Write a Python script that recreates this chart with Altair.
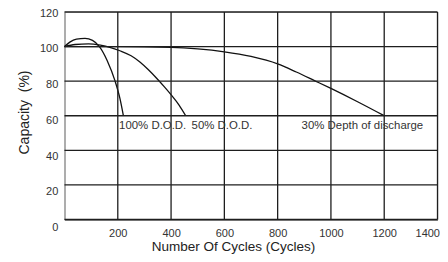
import altair as alt
import pandas as pd

# ---- data ----
cycles_100 = [0, 20, 45, 77, 105, 131, 160, 190, 208, 221]
capacity_100 = [100, 102.6, 104.3, 104.7, 103.6, 100, 92, 80, 70, 60]

cycles_50 = [0, 40, 90, 135, 170, 208, 250, 283, 315, 344, 375, 402, 430, 455]
capacity_50 = [100, 101.2, 101.6, 100.8, 99.6, 97.6, 94.7, 91.1, 86.6, 82.0, 76.7, 71.8, 66.2, 60]

cycles_30 = [0, 200, 400, 500, 600, 700, 800, 870, 940, 1000, 1100, 1200]
capacity_30 = [100, 100, 99.6, 98.7, 97, 94.3, 90, 85.3, 80.2, 75.8, 68.1, 60]

label_text = ["100% D.O.D.", "50% D.O.D.", "30% Depth of discharge"]
label_cycles = [205, 477, 890]
label_capacity = [54.2, 54.2, 54.2]

x_ticks = [200, 400, 600, 800, 1000, 1200, 1400]
y_ticks = [0, 20, 40, 60, 80, 100, 120]

FONT = "Liberation Sans"

rows = []
for name, xs, ys in [("100%", cycles_100, capacity_100),
                     ("50%", cycles_50, capacity_50),
                     ("30%", cycles_30, capacity_30)]:
    for i, (a, b) in enumerate(zip(xs, ys)):
        rows.append({"series": name, "order": i, "cycles": a, "capacity": b})
df = pd.DataFrame(rows)
lab_df = pd.DataFrame({"label": label_text, "cycles": label_cycles, "capacity": label_capacity})
xgrid_df = pd.DataFrame({"cycles": x_ticks})
ygrid_df = pd.DataFrame({"capacity": y_ticks})
ylab_df = pd.DataFrame({"v": y_ticks})

xscale = alt.Scale(domain=[0, 1400], nice=False, zero=False)
yscale = alt.Scale(domain=[0, 120], nice=False)
GRID = "#1e1e1e"

lines = alt.Chart(df).mark_line(color="#111111", strokeWidth=1.3, interpolate="monotone").encode(
    x=alt.X("cycles:Q", scale=xscale,
            axis=alt.Axis(values=x_ticks, format="d", title="Number Of Cycles (Cycles)", grid=False,
                          ticks=False, labelPadding=8, labelFlush=True, labelFlushOffset=2,
                          labelFontSize=11, labelFont=FONT, labelColor="#333333",
                          domainColor="#333333", domainWidth=1.2,
                          titleFont=FONT, titleFontSize=13.5, titleFontWeight="normal",
                          titleColor="#222222", titleX=168.5, titleY=27,
                          titleBaseline="middle", titleAlign="center")),
    y=alt.Y("capacity:Q", scale=yscale,
            axis=alt.Axis(values=y_ticks, title="Capacity \u00a0(%)", grid=False, labels=False,
                          ticks=False, domainColor="#8a8a8a", domainWidth=1.3,
                          titleFont=FONT, titleFontSize=14, titleFontWeight="normal",
                          titleColor="#222222", titleX=-40.5, titleY=100,
                          titleBaseline="middle", titleAlign="center", titleAngle=270)),
    detail="series:N",
    order="order:Q",
)

vgrid = alt.Chart(xgrid_df).mark_rule(color=GRID, strokeWidth=1.3).encode(
    x=alt.X("cycles:Q", scale=xscale)
)
hgrid = alt.Chart(ygrid_df).mark_rule(color=GRID, strokeWidth=1.3).encode(
    y=alt.Y("capacity:Q", scale=yscale)
)

notes = alt.Chart(lab_df).mark_text(align="left", baseline="middle", font=FONT,
                                    fontSize=11.4, color="#333333").encode(
    x=alt.X("cycles:Q", scale=xscale),
    y=alt.Y("capacity:Q", scale=yscale),
    text="label:N",
)

ylabels = alt.Chart(ylab_df).mark_text(align="right", baseline="middle", font=FONT,
                                       fontSize=11, color="#333333").encode(
    x=alt.value(-6.2),
    y=alt.Y("v:Q", scale=alt.Scale(domain=[4.70, 121.0], nice=False, zero=False), axis=None),
    text=alt.Text("v:Q"),
)

main = alt.layer(lines, vgrid, hgrid, notes)
chart = alt.layer(main, ylabels).resolve_scale(y="independent").properties(
    width=373,
    height=207.5,
    title=alt.TitleParams("depth of discharge", font=FONT, fontSize=17, fontWeight="bold",
                          color="#111111", anchor="middle", frame="group", dx=-20,
                          offset=3, baseline="alphabetic"),
    autosize=alt.AutoSizeParams(type="none"),
    padding={"left": 56.5, "top": 4, "right": 2.5, "bottom": 34.5},
).configure_view(stroke="#1e1e1e", strokeWidth=1.3).configure(background="white")

chart.save("out.html", embed_options={"renderer": "svg", "actions": False})
